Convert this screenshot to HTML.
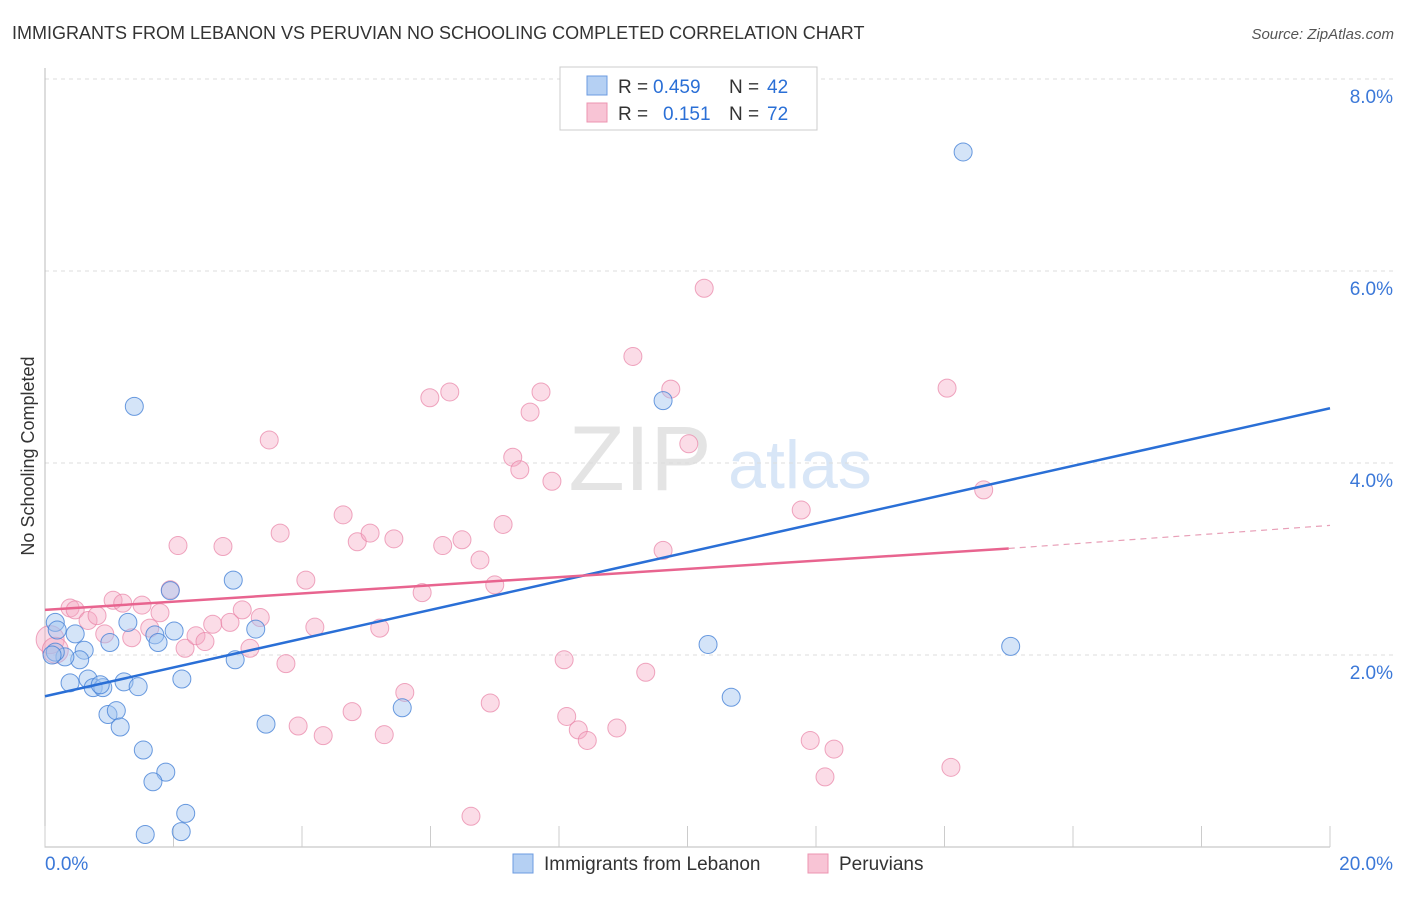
<!DOCTYPE html>
<html><head><meta charset="utf-8"><style>
body{margin:0;background:#fff;font-family:"Liberation Sans",sans-serif}
svg text{font-family:"Liberation Sans",sans-serif}
</style></head><body>
<svg id="c" width="1406" height="892">
<text x="12" y="39" font-size="18" fill="#333">IMMIGRANTS FROM LEBANON VS PERUVIAN NO SCHOOLING COMPLETED CORRELATION CHART</text>
<text x="1394" y="39" font-size="15" fill="#555" font-style="italic" text-anchor="end">Source: ZipAtlas.com</text>
<text transform="translate(34,456) rotate(-90)" font-size="18" fill="#333" text-anchor="middle">No Schooling Completed</text>
<text x="640" y="490" font-size="92" fill="#e4e4e4" font-family="Liberation Serif" text-anchor="middle">ZIP</text>
<text x="800" y="488" font-size="68" fill="#d8e6f7" text-anchor="middle">atlas</text>
<g id="grid"></g><g id="pts"></g><g id="lines"></g>
<g>
<rect x="560" y="67" width="257" height="63" fill="#fff" stroke="#ccc"/>
<rect x="587" y="76" width="20" height="19" fill="#b5d0f3" stroke="#6c9be0"/>
<rect x="587" y="103" width="20" height="19" fill="#f8c4d5" stroke="#ec94b1"/>
<text x="618" y="93" font-size="19" fill="#333">R =</text>
<text x="653" y="93" font-size="19" fill="#2a6fd6">0.459</text>
<text x="729" y="93" font-size="19" fill="#333">N =</text>
<text x="767" y="93" font-size="19" fill="#2a6fd6">42</text>
<text x="618" y="120" font-size="19" fill="#333">R =</text>
<text x="663" y="120" font-size="19" fill="#2a6fd6">0.151</text>
<text x="729" y="120" font-size="19" fill="#333">N =</text>
<text x="767" y="120" font-size="19" fill="#2a6fd6">72</text>
</g>
<g>
<rect x="513" y="854" width="20" height="19" fill="#b5d0f3" stroke="#6c9be0"/>
<text x="544" y="870" font-size="19" fill="#333">Immigrants from Lebanon</text>
<rect x="808" y="854" width="20" height="19" fill="#f8c4d5" stroke="#ec94b1"/>
<text x="839" y="870" font-size="19" fill="#333">Peruvians</text>
</g>
</svg>
<script>
const blueX=[0.16,0.19,0.47,0.61,1.01,0.54,0.31,0.16,0.39,0.67,0.75,0.90,0.86,1.23,1.45,1.29,1.71,1.76,2.01,2.13,0.98,1.11,1.17,1.53,1.88,1.68,2.19,1.56,2.12,1.39,1.95,2.93,2.96,3.28,3.44,5.56,9.62,10.32,10.68,14.29,15.03,0.11];
const blueY=[2.34,2.26,2.22,2.05,2.13,1.95,1.98,2.03,1.71,1.75,1.66,1.66,1.69,1.72,1.67,2.34,2.21,2.13,2.25,1.75,1.38,1.42,1.25,1.01,0.78,0.68,0.35,0.13,0.16,4.59,2.67,2.78,1.95,2.27,1.28,1.45,4.65,2.11,1.56,7.24,2.09,2.0];
const pinkX=[0.08,0.16,0.39,0.47,0.67,0.81,0.93,1.06,1.21,1.35,1.51,1.63,1.79,1.95,2.07,2.18,2.35,2.49,2.61,2.77,2.88,3.07,3.19,3.35,3.49,3.66,3.75,3.94,4.06,4.20,4.33,4.64,4.78,4.86,5.06,5.21,5.28,5.43,5.60,5.87,5.99,6.19,6.30,6.49,6.63,6.77,6.93,7.00,7.13,7.28,7.39,7.55,7.72,7.89,8.08,8.12,8.30,8.44,8.90,9.15,9.35,9.62,9.74,10.02,10.26,11.77,11.91,12.14,12.28,14.04,14.10,14.61];
const pinkY=[2.16,2.05,2.49,2.47,2.36,2.41,2.22,2.57,2.54,2.18,2.52,2.28,2.44,2.68,3.14,2.07,2.20,2.14,2.32,3.13,2.34,2.47,2.07,2.39,4.24,3.27,1.91,1.26,2.78,2.29,1.16,3.46,1.41,3.18,3.27,2.28,1.17,3.21,1.61,2.65,4.68,3.14,4.74,3.20,0.32,2.99,1.50,2.73,3.36,4.06,3.93,4.53,4.74,3.81,1.95,1.36,1.22,1.11,1.24,5.11,1.82,3.09,4.77,4.20,5.82,3.51,1.11,0.73,1.02,4.78,0.83,3.72];
const pinkR=[14,13];
const blueTrend=[[0,1.57],[20,4.57]];
const pinkTrend=[[0,2.47],[15,3.11],[20,3.35]];
const yTicks=[2,4,6,8];
const xTickLabels=["0.0%","20.0%"];
const sx=v=>45+v*64.25, sy=v=>847-v*96;
const NS="http://www.w3.org/2000/svg";
function mk(p,t,a){const e=document.createElementNS(NS,t);for(const k in a)e.setAttribute(k,a[k]);p.appendChild(e);return e;}
const g=document.getElementById('grid'),P=document.getElementById('pts'),L=document.getElementById('lines');
yTicks.forEach(v=>{
 const l=mk(g,'line',{x1:45,x2:1393,y1:sy(v),y2:sy(v),stroke:'#ddd','stroke-dasharray':'4,4'});
 
 
 const t=mk(g,'text',{x:1393,y:sy(v)+24,'font-size':19,fill:'#3b78d8','text-anchor':'end'});t.textContent=v.toFixed(1)+'%';
 
 
});
const ax=mk(g,'path',{d:'M45,68V847H1330',stroke:'#bbb',fill:'none'});


for(let i=0;i<=10;i++){const tk=mk(g,'line',{x1:sx(i*2),x2:sx(i*2),y1:826,y2:847,stroke:'#ccc'});
 
 }
[[0,'start',45],[20,'end',1393]].forEach((d,i)=>{const t=mk(g,'text',{x:d[2],y:870,'font-size':19,fill:'#3b78d8','text-anchor':d[1]});t.textContent=xTickLabels[i];
 
 });
pinkX.forEach((x,i)=>{const c=mk(P,'circle',{cx:sx(x),cy:sy(pinkY[i]),r:pinkR[i]||9,fill:'rgba(245,168,194,0.4)',stroke:'rgba(232,130,165,0.7)'});
 
 });
blueX.forEach((x,i)=>{const c=mk(P,'circle',{cx:sx(x),cy:sy(blueY[i]),r:9,fill:'rgba(160,195,240,0.45)',stroke:'rgba(70,130,215,0.8)'});
 
 });
const bl=mk(L,'line',{x1:sx(blueTrend[0][0]),y1:sy(blueTrend[0][1]),x2:sx(blueTrend[1][0]),y2:sy(blueTrend[1][1]),stroke:'#2a6fd6','stroke-width':2.5});


const pl=mk(L,'line',{x1:sx(pinkTrend[0][0]),y1:sy(pinkTrend[0][1]),x2:sx(pinkTrend[1][0]),y2:sy(pinkTrend[1][1]),stroke:'#e8648f','stroke-width':2.5});


const pd=mk(L,'line',{x1:sx(pinkTrend[1][0]),y1:sy(pinkTrend[1][1]),x2:sx(pinkTrend[2][0]),y2:sy(pinkTrend[2][1]),stroke:'#e8a0b8','stroke-width':1.2,'stroke-dasharray':'6,5'});


</script>
</body></html>
